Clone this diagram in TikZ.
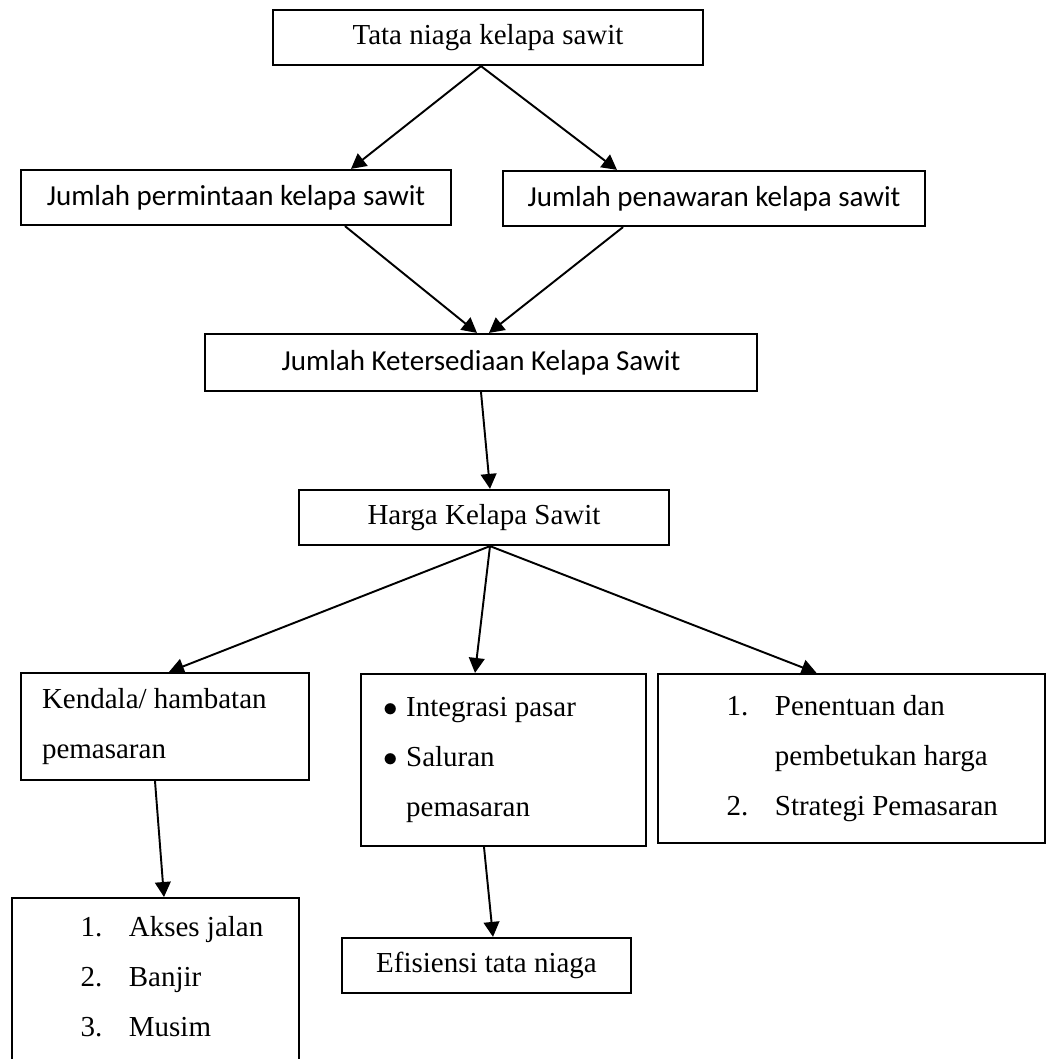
\documentclass[tikz,border=0pt]{standalone}
\usepackage{fontspec}
\setmainfont{Liberation Serif}
\newfontfamily\calibri{Carlito}
\usetikzlibrary{arrows.meta, calc}
\setlength{\parindent}{0pt}
\tikzset{
    serifbox/.style={draw=black, line width=0.9pt, inner sep=0pt, font=\fontsize{12}{14}\selectfont},
    sansbox/.style={serifbox, font=\calibri\fontsize{12}{14}\selectfont},
    listbox/.style={serifbox, inner sep=0pt, align=flush left, font=\fontsize{12}{20.7}\selectfont},
    link/.style={line width=0.8pt, -{Triangle[length=6.2pt, width=6.5pt]}}
}
\newcommand{\nomor}[1]{\hspace*{28.4pt}\makebox[20pt][l]{#1}}
\newcommand{\titik}{\hspace*{-2pt}\makebox[9.5pt][l]{$\bullet$}}

\begin{document}
\begin{tikzpicture}[x=0.414pt, y=-0.414pt]
    % Fix the page to the size of the reference
    \useasboundingbox (0,0) rectangle (1048,1059);
    \clip (0,0) rectangle (1048,1059);

    % Draw the boxes
    \node[serifbox, minimum width=178pt, minimum height=22.8pt] (tata) at (488,37.5) {Tata niaga kelapa sawit};
    \node[sansbox, minimum width=178pt, minimum height=22.8pt] (minta) at (236,197.5) {Jumlah permintaan kelapa sawit};
    \node[sansbox, minimum width=174.7pt, minimum height=22.8pt] (tawar) at (714,198.5) {Jumlah penawaran kelapa sawit};
    \node[sansbox, minimum width=228.5pt, minimum height=23.6pt] (sedia) at (481,362.5) {Jumlah Ketersediaan Kelapa Sawit};
    \node[serifbox, minimum width=153.2pt, minimum height=22.8pt] (harga) at (484,517.5) {Harga Kelapa Sawit};
    \node[listbox, text width=101.8pt, inner xsep=8.7pt, minimum height=44.3pt] (kendala) at (165,726.5) {Kendala/ hambatan\\ pemasaran};
    \node[listbox, text width=95.6pt, inner xsep=11.2pt, minimum height=71.2pt] (pasar) at (503.5,760) {\titik Integrasi pasar\\ \titik Saluran\\ \hspace*{7.5pt}pemasaran};
    \node[listbox, text width=160.2pt, minimum height=70pt] (strategi) at (851.5,758.5) {\nomor{1.}Penentuan dan\\ \hspace*{48.4pt}pembetukan harga\\ \nomor{2.}Strategi Pemasaran};
    \node[listbox, text width=118.8pt, inner ysep=7.7pt, text depth=52pt, anchor=north] (akses) at (155.5,897) {\nomor{1.}Akses jalan\\ \nomor{2.}Banjir\\ \nomor{3.}Musim};
    \node[serifbox, minimum width=119.6pt, minimum height=22.8pt] (efisiensi) at (486.5,965.5) {Efisiensi tata niaga};

    % Draw the arrows between the boxes
    \draw[link] ($(tata.south)+(-7,0)$) -- ($(minta.north)+(115,0)$);
    \draw[link] ($(tata.south)+(-7,0)$) -- ($(tawar.north)+(-97,0)$);
    \draw[link] ($(minta.south)+(109,0)$) -- ($(sedia.north)+(-4,0)$);
    \draw[link] ($(tawar.south)+(-91,0)$) -- ($(sedia.north)+(8,0)$);
    \draw[link] (sedia.south) -- ($(harga.north)+(6,0)$);
    \draw[link] ($(harga.south)+(6,0)$) -- ($(kendala.north)+(4,0)$);
    \draw[link] ($(harga.south)+(6,0)$) -- ($(pasar.north)+(-28.5,0)$);
    \draw[link] ($(harga.south)+(6,0)$) -- ($(strategi.north)+(-35,0)$);
    \draw[link] ($(kendala.south)+(-10,0)$) -- ($(akses.north)+(8.5,0)$);
    \draw[link] ($(pasar.south)+(-19.5,0)$) -- ($(efisiensi.north)+(6.5,0)$);
\end{tikzpicture}
\end{document}
